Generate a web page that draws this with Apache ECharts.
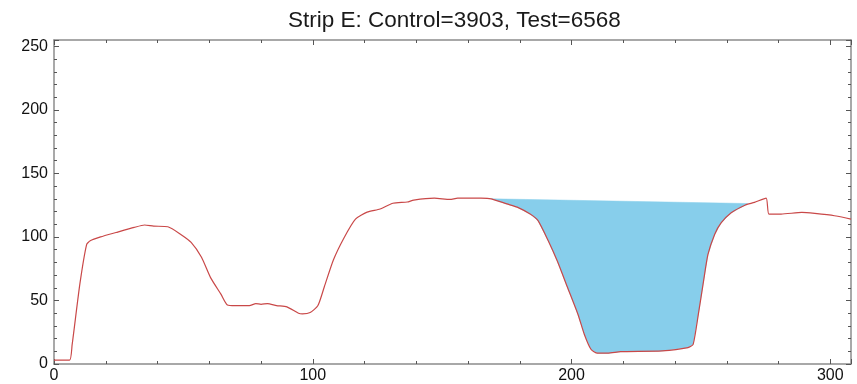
<!DOCTYPE html>
<html>
<head>
<meta charset="utf-8">
<script src="https://cdn.jsdelivr.net/npm/echarts@6/dist/echarts.min.js"></script>
<style>
html, body { margin: 0; padding: 0; background: #fff; }
#chart { width: 857px; height: 384px; }
</style>
</head>
<body>
<div id="chart"></div>
<script>
// strip profile
const positions = [0, 6, 7, 10, 12.6, 14, 18, 24, 31, 35, 38.5, 44, 49, 53, 57, 60.5, 64.5, 67, 70, 75.5,
	78, 80, 82.5, 86, 90, 94.5, 96, 99, 102, 104.5, 108, 112, 116.5, 121, 126, 131, 136.5, 139, 147, 153,
	156, 165, 169, 175, 179, 184, 187, 191, 194.5, 198.5, 202.5, 205, 207.5, 210, 214, 219, 235, 245, 247, 249,
	251, 252.7, 255.3, 257.8, 261.7, 267, 270.7, 275.2, 276.3, 281, 289, 294, 301.6, 308]
const intensity = [3, 3, 15, 63, 94, 97, 100, 103.5, 107.5, 109.4, 108.5, 108, 102, 95.7, 84, 68, 55, 46.5, 46, 46,
	47.5, 47, 47.5, 46, 45, 40, 39.5, 40.5, 46, 61, 82, 99, 114, 119.5, 122, 126.5, 127.5, 129, 130.5, 129.5,
	130.5, 130.5, 130, 126, 123.5, 118, 113, 97, 81, 60, 39, 23, 11.6, 8.5, 8.5, 9.7, 10.3, 12.9, 15.5, 39,
	65, 86, 102, 111, 119, 125, 127.2, 130.6, 118, 118, 119.3, 118.5, 116.7, 114]
// baseline of the test peak
const fillStart = [169, 130]
const fillEnd = [268, 126.3]
const titleText = 'Strip E: Control=3903, Test=6568'

const profile = positions.map((x, i) => [x, intensity[i]])
const peak = profile.filter(p => p[0] > fillStart[0] && p[0] < fillEnd[0])

const myChart = echarts.init(document.getElementById('chart'))

const axisGray = '#8c8c8c'
const tickStyle = { color: '#555', width: 1 }
const baseX = {
	type: 'value',
	min: 0,
	max: 308,
	interval: 100,
	axisLine: { show: true, onZero: false, lineStyle: { color: axisGray, width: 1.5 } },
	axisTick: { show: true, inside: true, length: 5, lineStyle: tickStyle },
	minorTick: { show: true, splitNumber: 5, length: 3, lineStyle: tickStyle },
	splitLine: { show: false }
}
const baseY = {
	type: 'value',
	min: 0,
	max: 255,
	interval: 50,
	axisLine: { show: true, onZero: false, lineStyle: { color: axisGray, width: 1.5 } },
	axisTick: { show: true, inside: true, length: 5, lineStyle: tickStyle },
	minorTick: { show: true, splitNumber: 5, length: 3, lineStyle: tickStyle },
	splitLine: { show: false }
}
const labelFont = { color: '#111', fontSize: 16, fontFamily: 'Liberation Sans' }

const options = {
	animation: false,
	title: {
		text: titleText,
		left: 283, // centred over the plot area, not the page
		top: 4,
		textStyle: { fontFamily: 'Liberation Sans', fontSize: 22.5, fontWeight: 'normal', color: '#1a1a1a' }
	},
	grid: { left: 54, right: 6, top: 40, bottom: 20 },
	xAxis: [
		Object.assign({}, baseX, {
			position: 'bottom',
			axisLabel: Object.assign({ showMaxLabel: false, margin: 4 }, labelFont)
		}),
		Object.assign({}, baseX, { position: 'top', axisLabel: { show: false } })
	],
	yAxis: [
		Object.assign({}, baseY, {
			position: 'left',
			axisLabel: Object.assign({ showMaxLabel: false, margin: 6 }, labelFont)
		}),
		Object.assign({}, baseY, { position: 'right', axisLabel: { show: false } })
	],
	series: [
		{
			type: 'custom',
			xAxisIndex: 0,
			yAxisIndex: 0,
			data: [0],
			z: 1,
			renderItem: function (params, api) {
				const pts = [fillStart].concat(peak, [fillEnd]).map(p => api.coord(p))
				return {
					type: 'polygon',
					shape: { points: pts },
					style: { fill: '#87ceeb', stroke: '#87ceeb', lineWidth: 0.5 }
				}
			}
		},
		{
			type: 'line',
			xAxisIndex: 0,
			yAxisIndex: 0,
			data: profile,
			showSymbol: false,
			smooth: 0.2,
			z: 3,
			lineStyle: { color: '#c94848', width: 1.2 }
		}
	]
}
myChart.setOption(options)
</script>
</body>
</html>
